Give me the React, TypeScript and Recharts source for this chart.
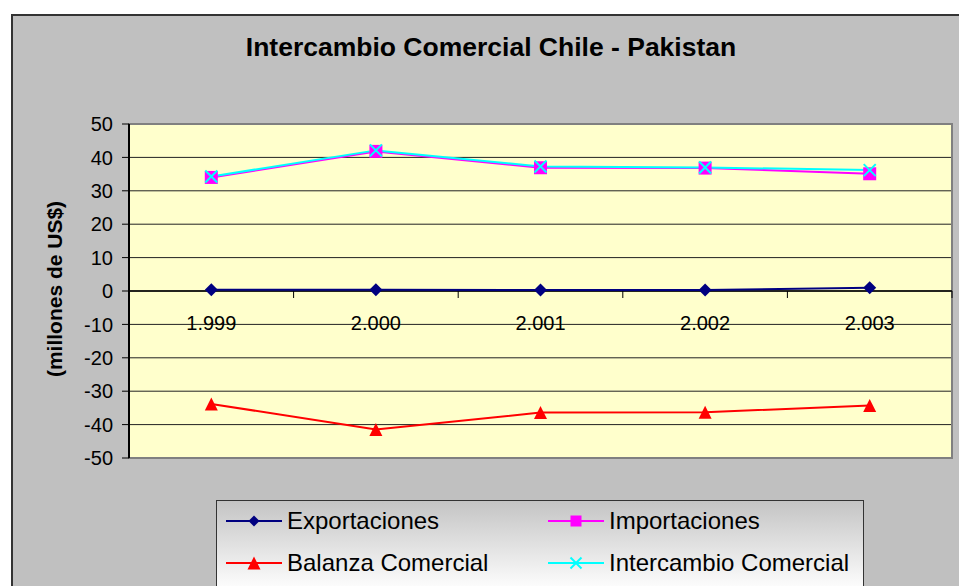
import React from "react";
import {
  LineChart,
  Line,
  XAxis,
  YAxis,
  CartesianGrid,
  ReferenceLine,
  ReferenceArea,
  Legend,
} from "recharts";

// valores en millones de US$
const YEARS = ["1.999", "2.000", "2.001", "2.002", "2.003"];
const EXPORTACIONES = [0.4, 0.4, 0.3, 0.3, 1.0];
const IMPORTACIONES = [34.0, 41.8, 36.9, 36.8, 35.1];
const BALANZA = [-33.8, -41.5, -36.4, -36.3, -34.3];
const INTERCAMBIO = [34.3, 42.1, 37.3, 37.0, 36.2];

const Y_TICKS = [-50, -40, -30, -20, -10, 0, 10, 20, 30, 40, 50];
const GRID_VALUES = [-40, -30, -20, -10, 0, 10, 20, 30, 40];

const FONT = "'Liberation Sans', Arial, sans-serif";
const W = 959;
const H = 586;
const PLOT = { left: 129, top: 124, right: 952, bottom: 458 };
const Y_MIN = -50;
const Y_MAX = 50;
const ZERO_Y = PLOT.top + ((PLOT.bottom - PLOT.top) * Y_MAX) / (Y_MAX - Y_MIN);
const X_AXIS_H = 1;

const SERIES = [
  { key: "exportaciones", name: "Exportaciones", color: "#000080", marker: "diamond" },
  { key: "importaciones", name: "Importaciones", color: "#FF00FF", marker: "square" },
  { key: "balanza", name: "Balanza Comercial", color: "#FF0000", marker: "triangle" },
  { key: "intercambio", name: "Intercambio Comercial", color: "#00FFFF", marker: "cross" },
];

const data = YEARS.map((year, i) => ({
  year,
  exportaciones: EXPORTACIONES[i],
  importaciones: IMPORTACIONES[i],
  balanza: BALANZA[i],
  intercambio: INTERCAMBIO[i],
}));

function Marker({ type, cx, cy, color, s }: { type: string; cx: number; cy: number; color: string; s: number }) {
  if (cx == null || cy == null) return null;
  if (type === "diamond") {
    return <polygon points={`${cx},${cy - s} ${cx + s},${cy} ${cx},${cy + s} ${cx - s},${cy}`} fill={color} />;
  }
  if (type === "square") {
    return <rect x={cx - s} y={cy - s} width={s * 2} height={s * 2} fill={color} />;
  }
  if (type === "triangle") {
    return <polygon points={`${cx},${cy - s} ${cx + s},${cy + s} ${cx - s},${cy + s}`} fill={color} />;
  }
  return (
    <g stroke={color} strokeWidth={2}>
      <line x1={cx - s} y1={cy - s} x2={cx + s} y2={cy + s} />
      <line x1={cx - s} y1={cy + s} x2={cx + s} y2={cy - s} />
    </g>
  );
}

function XTick(props: any) {
  const { x, payload, index } = props;
  const half = (PLOT.right - PLOT.left) / YEARS.length / 2;
  return (
    <g>
      <line x1={x - half} x2={x - half} y1={ZERO_Y} y2={ZERO_Y + 7} stroke="#000" />
      {index === YEARS.length - 1 && (
        <line x1={x + half} x2={x + half} y1={ZERO_Y} y2={ZERO_Y + 7} stroke="#000" />
      )}
      <text x={x} y={ZERO_Y + 39} textAnchor="middle" fontSize={20} fontFamily={FONT} fill="#000">
        {payload.value}
      </text>
    </g>
  );
}

function LegendBox({ payload }: any) {
  const items = (payload ?? []).filter((p: any) => SERIES.some((s) => s.key === p.dataKey));
  return (
    <div
      style={{
        position: "relative",
        width: 648,
        height: 92,
        boxSizing: "border-box",
        border: "1px solid #333",
        background: "linear-gradient(#c4c4c4, #ffffff)",
        fontFamily: FONT,
      }}
    >
      {items.map((p: any) => {
        const idx = SERIES.findIndex((s) => s.key === p.dataKey);
        const s = SERIES[idx];
        const row = Math.floor(idx / 2);
        const col = idx % 2;
        return (
          <div
            key={s.key}
            style={{
              position: "absolute",
              left: 9 + col * 322,
              top: 6 + row * 42,
              height: 28,
              display: "flex",
              alignItems: "center",
              whiteSpace: "nowrap",
            }}
          >
            <svg width={56} height={20} style={{ marginRight: 5 }}>
              <line x1={0} y1={10} x2={56} y2={10} stroke={s.color} strokeWidth={2} />
              <Marker type={s.marker} cx={28} cy={10} color={s.color} s={s.marker === "triangle" ? 6.5 : 5.5} />
            </svg>
            <span style={{ fontSize: 24, lineHeight: "28px", color: "#000" }}>{s.name}</span>
          </div>
        );
      })}
    </div>
  );
}

export default function App() {
  return (
    <div style={{ position: "fixed", left: 0, top: 0, width: W, height: H, overflow: "hidden", background: "#fff" }}>
      <div
        style={{
          position: "absolute",
          left: 11,
          top: 14,
          width: 1000,
          height: 1000,
          background: "#C0C0C0",
          border: "2px solid #333",
        }}
      />
      <div
        style={{
          position: "absolute",
          left: 0,
          top: 34,
          width: 982,
          textAlign: "center",
          fontFamily: FONT,
          fontWeight: "bold",
          fontSize: 26.5,
          lineHeight: "26px",
          color: "#000",
          whiteSpace: "nowrap",
        }}
      >
        Intercambio Comercial Chile - Pakistan
      </div>
      <div
        style={{
          position: "absolute",
          left: 55,
          top: 289,
          transform: "translate(-50%, -50%) rotate(-90deg)",
          fontFamily: FONT,
          fontWeight: "bold",
          fontSize: 21,
          color: "#000",
          whiteSpace: "nowrap",
        }}
      >
        (millones de US$)
      </div>
      <div style={{ position: "absolute", left: 0, top: 0 }}>
        <LineChart
          width={W}
          height={H}
          data={data}
          margin={{ top: PLOT.top, right: W - PLOT.right, bottom: H - PLOT.bottom - X_AXIS_H, left: 0 }}
        >
          <CartesianGrid
            horizontal
            vertical={false}
            horizontalValues={GRID_VALUES}
            stroke="#222"
            fill="#FFFFCC"
            fillOpacity={1}
          />
          <ReferenceArea y1={Y_MIN} y2={Y_MAX} fill="none" stroke="#808080" strokeWidth={2} />
          <ReferenceLine y={0} stroke="#000" strokeWidth={1.5} />
          <XAxis
            dataKey="year"
            scale="band"
            height={X_AXIS_H}
            axisLine={false}
            tickLine={false}
            interval={0}
            tick={(p: any) => <XTick key={`tick-${p.index}`} {...p} />}
          />
          <YAxis
            width={PLOT.left}
            domain={[Y_MIN, Y_MAX]}
            ticks={Y_TICKS}
            interval={0}
            tickSize={7}
            tickMargin={9}
            axisLine={{ stroke: "#000", strokeWidth: 2 }}
            tickLine={{ stroke: "#000" }}
            tick={{ fontSize: 20, fontFamily: FONT, fill: "#000" }}
          />
          {SERIES.map((s) => (
            <Line
              key={s.key}
              type="linear"
              dataKey={s.key}
              name={s.name}
              stroke={s.color}
              strokeWidth={2}
              isAnimationActive={false}
              activeDot={false}
              dot={(p: any) => (
                <Marker
                  key={`${s.key}-${p.index}`}
                  type={s.marker}
                  cx={p.cx}
                  cy={p.cy}
                  color={s.color}
                  s={s.marker === "cross" ? 6 : 6.5}
                />
              )}
            />
          ))}
          <Legend
            layout="horizontal"
            verticalAlign="middle"
            align="center"
            content={<LegendBox />}
            wrapperStyle={{ left: 216, top: 500, width: 648, height: 92 }}
          />
        </LineChart>
      </div>
    </div>
  );
}
